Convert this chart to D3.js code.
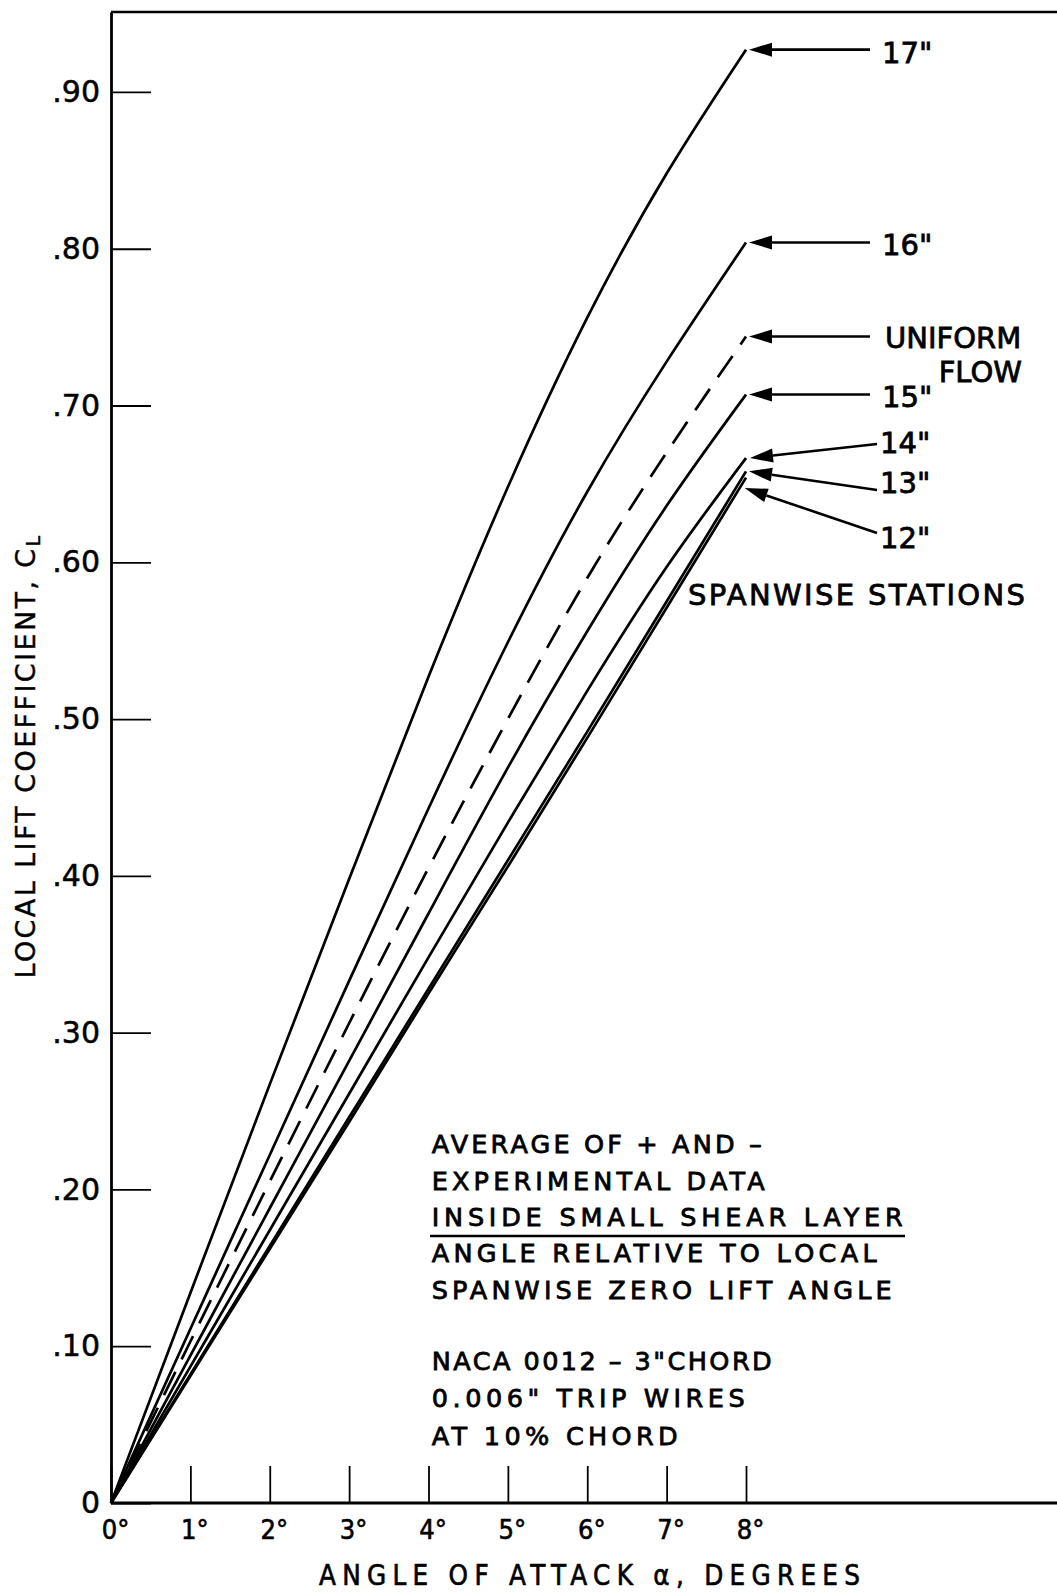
<!DOCTYPE html>
<html><head><meta charset="utf-8">
<script src="https://cdn.jsdelivr.net/npm/d3@7"></script>
<style>body{margin:0;background:#fff} svg{display:block}</style>
</head><body>
<svg id="chart" width="1057" height="1594"></svg>
<script>
// ---------- DATA ----------
const angles = [0, 1, 2, 3, 4, 5, 6, 7, 8];
const cl17 = [0, 0.134, 0.267, 0.398, 0.527, 0.648, 0.756, 0.848, 0.927];
const cl16 = [0, 0.111, 0.222, 0.333, 0.443, 0.549, 0.645, 0.728, 0.804];
const clUniform = [0, 0.103, 0.205, 0.306, 0.405, 0.500, 0.590, 0.670, 0.744];
const cl15 = [0, 0.094, 0.188, 0.282, 0.376, 0.469, 0.556, 0.636, 0.707];
const cl14 = [0, 0.087, 0.174, 0.261, 0.348, 0.434, 0.518, 0.597, 0.6665];
const cl13 = [0, 0.082, 0.164, 0.246, 0.328, 0.410, 0.492, 0.575, 0.658];
const cl12 = [0, 0.081, 0.162, 0.243, 0.325, 0.406, 0.488, 0.571, 0.654];
const yTickValues = [0, 0.1, 0.2, 0.3, 0.4, 0.5, 0.6, 0.7, 0.8, 0.9];
const yTickLabels = ["0", ".10", ".20", ".30", ".40", ".50", ".60", ".70", ".80", ".90"];
const xTickValues = [0, 1, 2, 3, 4, 5, 6, 7, 8];
const xTickLabels = ["0°", "1°", "2°", "3°", "4°", "5°", "6°", "7°", "8°"];
const noteLines = [
  "AVERAGE OF + AND –",
  "EXPERIMENTAL  DATA",
  "INSIDE SMALL  SHEAR  LAYER",
  "ANGLE RELATIVE TO LOCAL",
  "SPANWISE ZERO  LIFT  ANGLE",
  "NACA  0012 – 3\"CHORD",
  "0.006\"  TRIP  WIRES",
  "AT 10%  CHORD"
];

// ---------- LAYOUT ----------
const W = 1057, H = 1594;
const FONT = "'DejaVu Sans', 'Liberation Sans', sans-serif";
const COND = "'DejaVu Sans Condensed', 'Liberation Sans Narrow', 'DejaVu Sans', sans-serif";
const svg = d3.select("#chart");
svg.append("rect").attr("width", W).attr("height", H).attr("fill", "#fff");

const x = d3.scaleLinear().domain([0, 8]).range([111, 746]);
const y = d3.scaleLinear().domain([0, 0.951]).range([1503, 12]);

// text helper: regular face with a thin outline to mimic the lettering weight
function heavy(sel, w) { return sel.attr("stroke", "#000").attr("stroke-width", w).attr("fill", "#000"); }

// frame lines (top and baseline extend to right edge)
svg.append("line").attr("x1", x(0)).attr("x2", W).attr("y1", y(0.951)).attr("y2", y(0.951))
  .attr("stroke", "#000").attr("stroke-width", 2.6);
svg.append("line").attr("x1", x(0)).attr("x2", W).attr("y1", y(0)).attr("y2", y(0))
  .attr("stroke", "#000").attr("stroke-width", 2.8);

// y axis
const gy = svg.append("g").attr("transform", `translate(${x(0)},0)`)
  .call(d3.axisLeft(y).tickValues(yTickValues).tickFormat((d, i) => yTickLabels[i])
    .tickSizeInner(-40).tickSizeOuter(0).tickPadding(11));
gy.select(".domain").attr("stroke-width", 2.8);
gy.selectAll(".tick line").attr("stroke-width", 1.8);
heavy(gy.selectAll(".tick text").attr("font-family", FONT).attr("font-size", 30), 0.5);

// x axis
const gx = svg.append("g").attr("transform", `translate(0,${y(0)})`)
  .call(d3.axisBottom(x).tickValues(xTickValues).tickFormat((d, i) => xTickLabels[i])
    .tickSizeInner(-37).tickSizeOuter(0).tickPadding(17));
gx.select(".domain").remove();
gx.selectAll(".tick line").attr("stroke-width", 1.8);
heavy(gx.selectAll(".tick text").attr("font-family", COND).attr("font-size", 27).attr("dx", 4), 0.6);

// axis titles
heavy(svg.append("text").attr("x", 589.5).attr("y", 1585).attr("text-anchor", "middle")
  .attr("font-family", COND).attr("font-size", 27.5)
  .attr("textLength", 541).attr("lengthAdjust", "spacing")
  .text("ANGLE OF ATTACK α, DEGREES"), 0.6);

const yt = heavy(svg.append("text").attr("transform", "translate(35,756) rotate(-90)")
  .attr("text-anchor", "middle").attr("font-family", FONT).attr("font-size", 27)
  .attr("letter-spacing", 2.4), 0.4);
yt.append("tspan").text("LOCAL LIFT COEFFICIENT, C");
yt.append("tspan").attr("font-size", 19).attr("dy", 5).text("L");

// curves
const line = d3.line().x(d => x(d[0])).y(d => y(d[1])).curve(d3.curveNatural);
const series = [
  {data: cl17}, {data: cl16}, {data: clUniform, dash: "26,14"},
  {data: cl15}, {data: cl14}, {data: cl13}, {data: cl12}
];
series.forEach(s => {
  svg.append("path").datum(angles.map((a, i) => [a, s.data[i]]))
    .attr("d", line).attr("fill", "none").attr("stroke", "#000")
    .attr("stroke-width", 2.7).attr("stroke-linejoin", "round")
    .attr("stroke-dasharray", s.dash || null);
});

// station labels with arrows
function valueAt(data, a) {
  const i = Math.min(Math.floor(a), angles.length - 2);
  const t = a - i;
  return data[i] + (data[i + 1] - data[i]) * t;
}
const stations = [
  {label: "17\"", data: cl17, at: 8, dx: 3, tail: [870, null], lx: 882, ly: 63.3},
  {label: "16\"", data: cl16, at: 8, dx: 3, tail: [870, null], lx: 882, ly: 255},
  {label: "UNIFORM", data: clUniform, at: 8, dx: 3, tail: [870, null], lx: 885, ly: 348.3},
  {label: "15\"", data: cl15, at: 8, dx: 3, tail: [870, null], lx: 882, ly: 406.7},
  {label: "14\"", data: cl14, at: 8, dx: 4, tail: [877, 444], lx: 880, ly: 453.3},
  {label: "13\"", data: cl13, at: 8, dx: 3, tail: [877, 490], lx: 880, ly: 493.3},
  {label: "12\"", data: cl12, at: 7.92, dx: 5, tail: [877, 533], lx: 880, ly: 548.3}
];
stations.forEach(s => {
  const tip = [x(s.at) + s.dx, y(valueAt(s.data, s.at))];
  const tail = [s.tail[0], s.tail[1] == null ? tip[1] : s.tail[1]];
  const len = Math.hypot(tail[0] - tip[0], tail[1] - tip[1]);
  const ux = (tail[0] - tip[0]) / len, uy = (tail[1] - tip[1]) / len;
  const bx = tip[0] + ux * 23, by = tip[1] + uy * 23;
  const nx = -uy * 7, ny = ux * 7;
  svg.append("line").attr("x1", bx).attr("y1", by).attr("x2", tail[0]).attr("y2", tail[1])
    .attr("stroke", "#000").attr("stroke-width", 2.6);
  svg.append("path")
    .attr("d", `M${tip[0]},${tip[1]}L${bx + nx},${by + ny}L${bx - nx},${by - ny}Z`)
    .attr("fill", "#000");
  heavy(svg.append("text").attr("x", s.lx).attr("y", s.ly).attr("font-family", FONT)
    .attr("font-size", 29).text(s.label), 0.8);
});
heavy(svg.append("text").attr("x", 1022).attr("y", 381.7).attr("text-anchor", "end")
  .attr("font-family", FONT).attr("font-size", 29).text("FLOW"), 0.8);
heavy(svg.append("text").attr("x", 688).attr("y", 605).attr("font-family", FONT)
  .attr("font-size", 29).attr("textLength", 337).attr("lengthAdjust", "spacing")
  .text("SPANWISE  STATIONS"), 0.8);

// note block
const noteY = [1153.3, 1190, 1226.3, 1262.3, 1299, 1370.3, 1407, 1445];
const noteW = [330, 333, 471, 445, 460, 340, 313, 246];
noteLines.forEach((t, i) => {
  heavy(svg.append("text").attr("x", 431.7).attr("y", noteY[i]).attr("font-family", FONT)
    .attr("font-size", 25.5)
    .attr("textLength", noteW[i]).attr("lengthAdjust", "spacing")
    .text(t), 0.8);
});
svg.append("line").attr("x1", 430).attr("x2", 905).attr("y1", 1236).attr("y2", 1236)
  .attr("stroke", "#000").attr("stroke-width", 2.4);
</script>
</body></html>
